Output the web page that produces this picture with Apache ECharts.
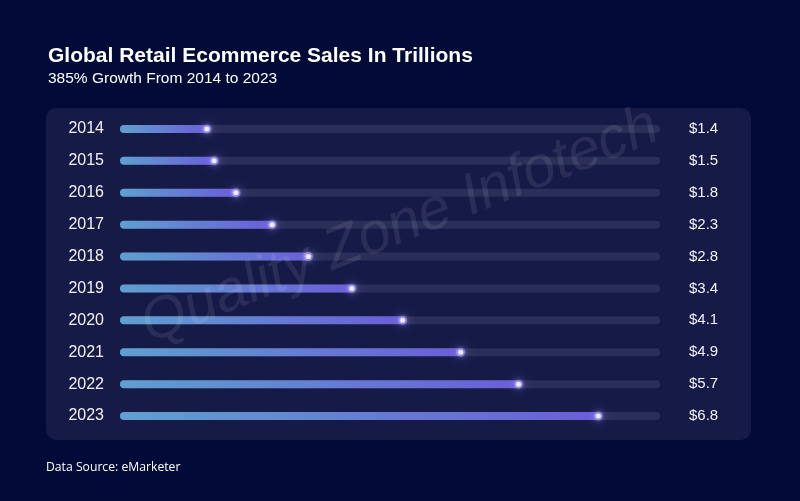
<!DOCTYPE html>
<html><head><meta charset="utf-8">
<script src="https://cdn.jsdelivr.net/npm/echarts@6/dist/echarts.min.js"></script>
<style>html,body{margin:0;padding:0;background:#020a38;}#c{width:800px;height:501px;}</style>
</head><body><div id="c"></div>
<script>
const years = ['2014','2015','2016','2017','2018','2019','2020','2021','2022','2023'];
const sales = [1.4, 1.5, 1.8, 2.3, 2.8, 3.4, 4.1, 4.9, 5.7, 6.8];
const valueLabels = sales.map(v => '$' + v.toFixed(1));
const titleText = 'Global Retail Ecommerce Sales In Trillions';
const subtitleText = '385% Growth From 2014 to 2023';
const sourceText = 'Data Source: eMarketer';
const watermarkText = 'Quality Zone Infotech';

const chart = echarts.init(document.getElementById('c'), null, {renderer:'canvas'});
chart.setOption({
  backgroundColor: '#020a38',
  animation: false,
  title: [
    {text: titleText, left: 43, top: 41, textStyle:{color:'#ffffff', fontSize:21, fontWeight:'bold', fontFamily:'Liberation Sans, Arial, sans-serif'}},
    {text: subtitleText, left: 43, top: 66, textStyle:{color:'#ffffff', fontSize:15.5, fontWeight:'normal', fontFamily:'Liberation Sans, Arial, sans-serif'}},
    {text: sourceText, left: 41, top: 457, textStyle:{color:'#ffffff', fontSize:12.2, fontWeight:500, fontFamily:'Open Sans, Noto Sans, sans-serif'}}
  ],
  graphic: [
    {type:'rect', z:-10, shape:{x:46, y:108, width:705, height:332, r:10}, style:{fill:'#151a47'}},
    {type:'text', z:100, x:400, y:226, rotation:0.38,
     style:{text: watermarkText, fill:'rgba(255,255,255,0.09)', font:'italic 58px Liberation Sans, Arial, sans-serif', textAlign:'center', textVerticalAlign:'middle'}}
  ],
  grid: {left:120, right:140, top:113, height:319},
  xAxis: {type:'value', min:0.2, max:7.65, show:false},
  yAxis: [
    {type:'category', data: years, inverse:true, axisLine:{show:false}, axisTick:{show:false}, splitLine:{show:false},
     axisLabel:{color:'#f2f2f7', fontSize:16, margin:16, fontFamily:'Liberation Sans, Arial, sans-serif'}},
    {type:'category', data: valueLabels, inverse:true, position:'right', axisLine:{show:false}, axisTick:{show:false}, splitLine:{show:false},
     axisLabel:{color:'#f2f2f7', fontSize:15, margin:29, fontFamily:'Liberation Sans, Arial, sans-serif'}}
  ],
  series: [
    {type:'bar', data: sales, barWidth:8, showBackground:true,
     backgroundStyle:{color:'#2a2f59', borderRadius:4},
     itemStyle:{borderRadius:4, color: new echarts.graphic.LinearGradient(0,0,1,0,[{offset:0,color:'#5fa0cf'},{offset:1,color:'#6a5ed8'}])}},
    {type:'scatter', data: sales.map((v,i)=>[v, years[i]]), symbolSize:9, z:4,
     itemStyle:{color:'rgba(150,140,255,0.75)', shadowBlur:8, shadowColor:'#8a80ff'}},
    {type:'scatter', data: sales.map((v,i)=>[v, years[i]]), symbolSize:5, z:5,
     itemStyle:{color:'#ffffff', shadowBlur:4, shadowColor:'#ffffff'}}
  ]
});
</script></body></html>
